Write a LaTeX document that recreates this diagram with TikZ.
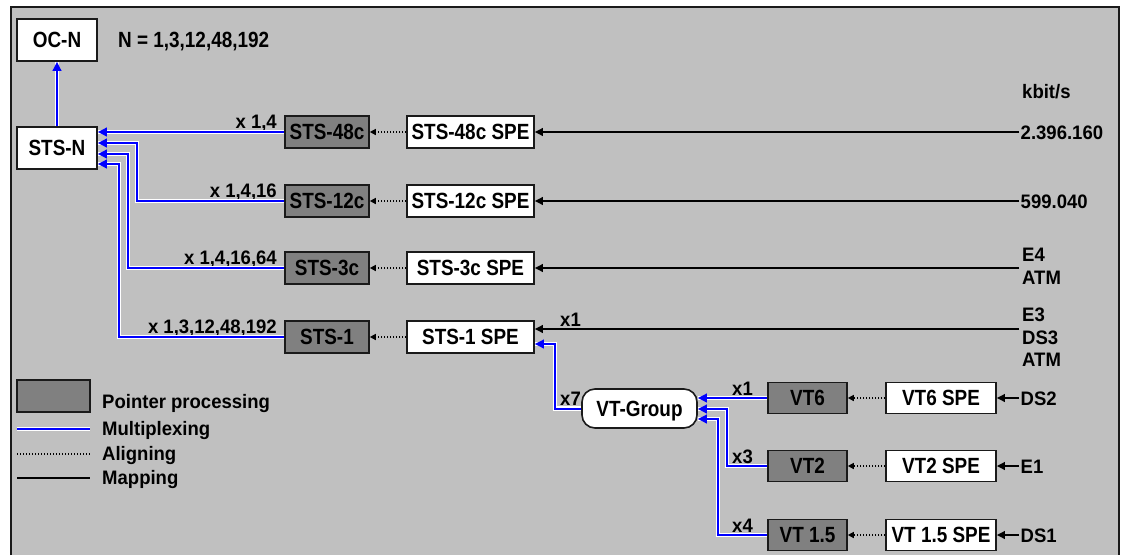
\documentclass[tikz,border=0pt]{standalone}
\usepackage{fontspec}
\setmainfont{Liberation Sans}
\newfontfamily\boxfamily{Liberation Sans}[FakeStretch=0.86]
\newfontfamily\lblfamily{Liberation Sans}[FakeStretch=0.95]
\usetikzlibrary{arrows.meta}
\definecolor{bggray}{HTML}{C0C0C0}
\definecolor{ppgray}{HTML}{808080}
\definecolor{muxblue}{HTML}{0000FF}
\definecolor{edgecol}{HTML}{1A1A1A}
\begin{document}
\begin{tikzpicture}[x=1pt,y=-1pt,
  boxtext/.style={font=\boxfamily\bfseries\fontsize{22}{24}\selectfont, text height=15.5pt, text depth=0pt, inner sep=0pt},
  ppbox/.style={boxtext, draw=edgecol, line width=1.6pt, fill=ppgray},
  spebox/.style={boxtext, draw=edgecol, line width=1.6pt, fill=white},
  lbl/.style={font=\lblfamily\bfseries\fontsize{19.5}{22.5}\selectfont, inner sep=0pt},
  ratelbl/.style={lbl, anchor=west, inner xsep=1.5pt, inner ysep=0pt, text height=14pt, text depth=0pt},
  mux/.style={draw=muxblue, line width=2pt, -{Triangle[length=9pt,width=8.5pt]}, preaction={draw=white, line width=4.5pt, -}},
  alignline/.style={draw=black, line width=1.4pt, dash pattern=on 1.4pt off 1.6pt, -{Triangle[length=6pt,width=6pt]}},
  mapline/.style={draw=black, line width=2pt, -{Triangle[length=8pt,width=7.5pt]}},
]
\useasboundingbox (0,0) rectangle (1130,555);
% frame
\fill[white] (0,0) rectangle (1130,555);
\fill[bggray] (11,7) rectangle (1119,555);
\draw[edgecol, line width=2pt] (11,555) -- (11,7) -- (1119,7) -- (1119,555);

% top left
\node[spebox, minimum width=80, minimum height=42] (ocn) at (57,40) {OC-N};
\node[spebox, minimum width=80, minimum height=42] (stsn) at (57,148) {STS-N};
\node[boxtext, anchor=base west] (neq) at (118,47) {N = 1,3,12,48,192};

% pointer processing boxes
\node[ppbox, minimum width=84, minimum height=32] (sts48) at (327,132) {STS-48c};
\node[ppbox, minimum width=84, minimum height=32] (sts12) at (327,201) {STS-12c};
\node[ppbox, minimum width=84, minimum height=32] (sts3) at (327,268) {STS-3c};
\node[ppbox, minimum width=84, minimum height=32] (sts1) at (327,337) {STS-1};

% SPE boxes
\node[spebox, minimum width=127, minimum height=32] (spe48) at (470.5,132) {STS-48c SPE};
\node[spebox, minimum width=127, minimum height=32] (spe12) at (470.5,201) {STS-12c SPE};
\node[spebox, minimum width=127, minimum height=32] (spe3) at (470.5,268) {STS-3c SPE};
\node[spebox, minimum width=127, minimum height=32] (spe1) at (470.5,337) {STS-1 SPE};

% rates
\node[lbl, anchor=base west] (kbit) at (1022,98) {kbit/s};
\node[ratelbl] (r48) at (1019,132) {2.396.160};
\node[ratelbl] (r12) at (1019,201) {599.040};
\node[lbl, anchor=north west, align=left] (r3) at (1022,248) {E4\\ATM};
\node[lbl, anchor=north west, align=left] (r1) at (1022,308) {E3\\DS3\\ATM};
\coordinate (m3) at (1019,268);
\coordinate (m1) at (1019,329);

% multiplier labels
\node[lbl, anchor=base east] (k48) at (277,128) {x 1,4};
\node[lbl, anchor=base east] (k12) at (277,197) {x 1,4,16};
\node[lbl, anchor=base east] (k3) at (277,264) {x 1,4,16,64};
\node[lbl, anchor=base east] (k1) at (277,333) {x 1,3,12,48,192};
\node[lbl, anchor=base west] (kx1) at (560,326) {x1};

% VT part
\node[spebox, rounded corners=13pt, minimum width=115, minimum height=39] (vtg) at (639.5,408.5) {VT-Group};
\node[ppbox, minimum width=79, minimum height=31] (vt6) at (807.5,398) {VT6};
\node[ppbox, minimum width=79, minimum height=31] (vt2) at (807.5,466) {VT2};
\node[ppbox, minimum width=79, minimum height=31] (vt15) at (807.5,535) {VT 1.5};
\node[spebox, minimum width=110, minimum height=31] (vt6spe) at (941,398) {VT6 SPE};
\node[spebox, minimum width=110, minimum height=31] (vt2spe) at (941,466) {VT2 SPE};
\node[spebox, minimum width=110, minimum height=31] (vt15spe) at (941,535) {VT 1.5 SPE};
\node[ratelbl] (ds2) at (1019,398) {DS2};
\node[ratelbl] (e1) at (1019,466) {E1};
\node[ratelbl] (ds1) at (1019,535) {DS1};
\node[lbl, anchor=base west] (kx7) at (560,405) {x7};
\node[lbl, anchor=base west] (kv1) at (732,395) {x1};
\node[lbl, anchor=base west] (kv3) at (732,463) {x3};
\node[lbl, anchor=base west] (kv4) at (732,532) {x4};

% connectors: multiplexing
\draw[mux] (stsn.north) -- (ocn.south);
\draw[mux] (sts48.west) -- (stsn.east |- sts48.west);
\draw[mux] (sts12.west) -| (137,143) -- ([yshift=5pt]stsn.east);
\draw[mux] (sts3.west) -| (128,154) -- ([yshift=-6pt]stsn.east);
\draw[mux] (sts1.west) -| (119,164) -- ([yshift=-16pt]stsn.east);
\draw[mux] (vtg.west) -| (555,344) -- ([yshift=-7pt]spe1.east);
\draw[mux] (vt6.west) -- (vtg.east |- vt6.west);
\draw[mux] (vt2.west) -| (727,409) -- ([yshift=-0.5pt]vtg.east);
\draw[mux] (vt15.west) -| (718,419) -- ([yshift=-10.5pt]vtg.east);

% aligning
\draw[alignline] (spe48.west) -- (sts48.east);
\draw[alignline] (spe12.west) -- (sts12.east);
\draw[alignline] (spe3.west) -- (sts3.east);
\draw[alignline] (spe1.west) -- (sts1.east);
\draw[alignline] (vt6spe.west) -- (vt6.east);
\draw[alignline] (vt2spe.west) -- (vt2.east);
\draw[alignline] (vt15spe.west) -- (vt15.east);

% mapping
\draw[mapline] (r48.west) -- (spe48.east);
\draw[mapline] (r12.west) -- (spe12.east);
\draw[mapline] (m3) -- (spe3.east);
\draw[mapline] (m1) -- (spe1.east |- m1);
\draw[mapline] (ds2.west) -- (vt6spe.east);
\draw[mapline] (e1.west) -- (vt2spe.east);
\draw[mapline] (ds1.west) -- (vt15spe.east);

% legend
\node[ppbox, minimum width=73, minimum height=32] (legpp) at (53.5,396) {};
\node[lbl, anchor=base west] (legppt) at (102,408) {Pointer processing};
\node[lbl, anchor=base west] (legmuxt) at (102,435) {Multiplexing};
\node[lbl, anchor=base west] (legalt) at (102,460) {Aligning};
\node[lbl, anchor=base west] (legmapt) at (102,484) {Mapping};
\coordinate (lmuxa) at (17,429); \coordinate (lmuxb) at (90,429);
\coordinate (lala) at (17,454); \coordinate (lalb) at (90,454);
\coordinate (lmapa) at (17,478); \coordinate (lmapb) at (90,478);
\draw[mux, -] (lmuxa) -- (lmuxb);
\draw[alignline, -] (lala) -- (lalb);
\draw[mapline, -] (lmapa) -- (lmapb);
\end{tikzpicture}
\end{document}
